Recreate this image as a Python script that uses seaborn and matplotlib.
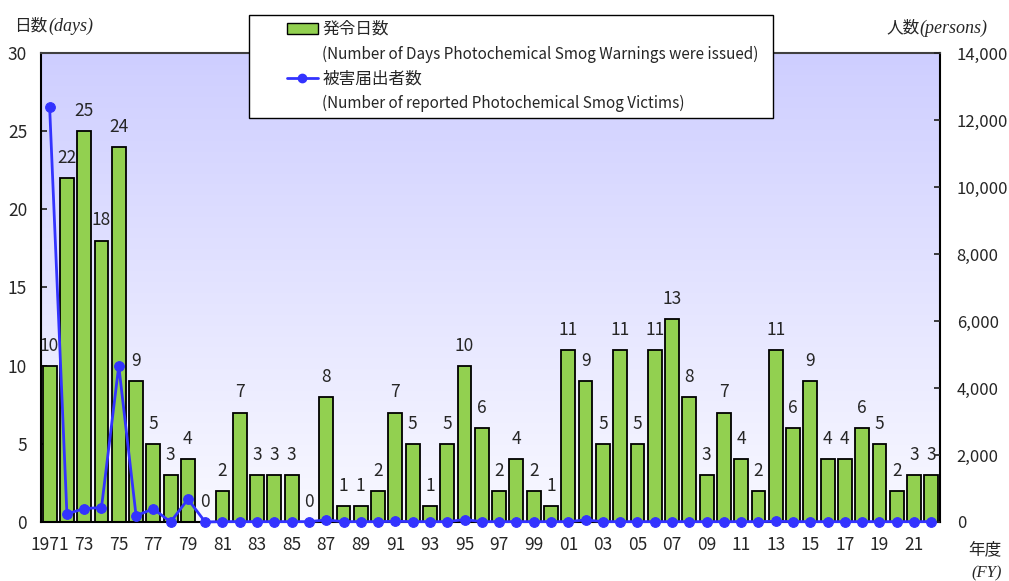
import numpy as np
import pandas as pd
import seaborn as sns
import matplotlib.pyplot as plt
from matplotlib.patches import Patch, Rectangle
from matplotlib.lines import Line2D
from matplotlib.ticker import FuncFormatter

# ----------------------------
# data
# ----------------------------
years = list(range(1971, 2023))
warning_days = [10, 22, 25, 18, 24, 9, 5, 3, 4, 0,
                2, 7, 3, 3, 3, 0, 8, 1, 1, 2,
                7, 5, 1, 5, 10, 6, 2, 4, 2, 1,
                11, 9, 5, 11, 5, 11, 13, 8, 3, 7,
                4, 2, 11, 6, 9, 4, 4, 6, 5, 2,
                3, 3]
victims = [12400, 240, 400, 430, 4660, 190, 390, 0, 680, 0,
           10, 10, 10, 10, 10, 10, 60, 10, 10, 10,
           20, 10, 10, 10, 70, 10, 10, 10, 10, 10,
           10, 60, 10, 10, 10, 10, 10, 10, 10, 10,
           10, 10, 20, 10, 10, 10, 10, 10, 10, 10,
           10, 10]
tick_labels = ['1971', '', '73', '', '75', '', '77', '', '79', '',
               '81', '', '83', '', '85', '', '87', '', '89', '',
               '91', '', '93', '', '95', '', '97', '', '99', '',
               '01', '', '03', '', '05', '', '07', '', '09', '',
               '11', '', '13', '', '15', '', '17', '', '19', '',
               '21', '']

df = pd.DataFrame({"year": [str(y) for y in years], "days": warning_days, "victims": victims})
df["pos"] = np.arange(len(df))

# ----------------------------
# figure
# ----------------------------
sns.set_theme(style="white")
plt.rcParams['font.family'] = ['Noto Sans CJK JP', 'DejaVu Sans']

fig = plt.figure(figsize=(10.09, 5.81), dpi=100)
ax = fig.add_axes([0.0406, 0.1016, 0.8910, 0.8072])

# gradient background (top lavender -> bottom near white)
grad = np.linspace(0, 1, 256)[:, None]
top_c = np.array([206, 206, 255]) / 255
bot_c = np.array([249, 249, 255]) / 255
img = top_c[None, None, :] * (1 - grad[:, :, None]) + bot_c[None, None, :] * grad[:, :, None]

sns.barplot(data=df, x="year", y="days", ax=ax, color="#92d050", edgecolor="black",
            linewidth=1.3, width=0.8, saturation=1, zorder=2)
ax.imshow(img, extent=[-0.5, len(years) - 0.5, 0, 30], origin='upper', aspect='auto', zorder=0)
ax.set_xlim(-0.5, len(years) - 0.5)
ax.set_ylim(0, 30)
ax.bar_label(ax.containers[0], padding=8, fontsize=12.5)

ax.set_xticks(df["pos"])
ax.set_xticklabels(tick_labels, fontsize=12.5)
ax.set_yticks(range(0, 31, 5))
ax.tick_params(axis='y', labelsize=12.5, direction='in', length=4, left=True, pad=10)
ax.tick_params(axis='x', length=0, pad=10)
ax.set_xlabel("")
ax.set_ylabel("")
for s in ax.spines.values():
    s.set_color("black")
    s.set_linewidth(1.5)
ax.spines['top'].set_color("#404040")

ax2 = ax.twinx()
sns.lineplot(data=df, x="pos", y="victims", ax=ax2, color="#3333ff", marker="o",
             markersize=7, markeredgecolor="#3333ff", linewidth=2, clip_on=False, zorder=5)
ax2.set_ylim(0, 14000)
ax2.set_yticks(range(0, 14001, 2000))
ax2.yaxis.set_major_formatter(FuncFormatter(lambda v, p: f"{int(v):,}"))
ax2.tick_params(axis='y', labelsize=12, direction='in', length=4, right=True, pad=12)
ax2.set_ylabel("")
ax2.set_xlabel("")
for s in ax2.spines.values():
    s.set_visible(False)

# axis titles
fig.text(14 / 1009, 1 - 26 / 581, "日数", fontsize=12, va='center')
fig.text(48 / 1009, 1 - 26 / 581, "(days)", fontsize=13, va='center',
         family='Liberation Serif', style='italic')
fig.text(886 / 1009, 1 - 28 / 581, "人数", fontsize=12, va='center')
fig.text(919 / 1009, 1 - 28 / 581, "(persons)", fontsize=13, va='center',
         family='Liberation Serif', style='italic')
fig.text(968 / 1009, 1 - 550 / 581, "年度", fontsize=12, va='center')
fig.text(971 / 1009, 1 - 573 / 581, "(FY)", fontsize=12, va='center',
         family='Liberation Serif', style='italic')

# legend: frame drawn separately so it spans the reference box
fig.patches.append(Rectangle((249 / 1009, 1 - 118 / 581), (773 - 249) / 1009, (118 - 15) / 581,
                             transform=fig.transFigure, facecolor='white', edgecolor='black',
                             linewidth=1.0, zorder=9))
blank = Patch(facecolor='none', edgecolor='none')
handles = [Patch(facecolor="#92d050", edgecolor="black"), blank,
           Line2D([], [], color="#3333ff", marker="o", markersize=6, linewidth=2), blank]
labels = ["発令日数", "(Number of Days Photochemical Smog Warnings were issued)",
          "被害届出者数", "(Number of reported Photochemical Smog Victims)"]
leg = fig.legend(handles, labels, loc='upper left', bbox_to_anchor=(287 / 1009, 1 - 21 / 581),
                 frameon=False, handlelength=2.0, handleheight=0.7, handletextpad=0.3,
                 labelspacing=0.5, borderpad=0, borderaxespad=0)
for i, t in enumerate(leg.get_texts()):
    t.set_fontsize(12 if i % 2 == 0 else 11)
leg.set_zorder(10)

fig.savefig("out.png", dpi=100)
